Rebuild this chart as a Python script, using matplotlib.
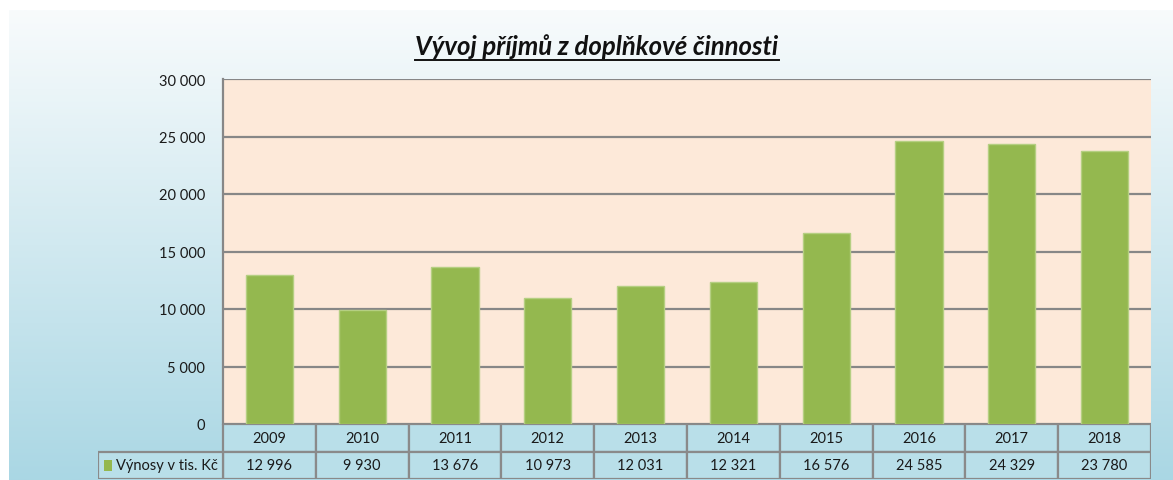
import numpy as np
import matplotlib
matplotlib.use("Agg")
import matplotlib.pyplot as plt
from matplotlib.patches import Rectangle

years = ["2009", "2010", "2011", "2012", "2013", "2014", "2015", "2016", "2017", "2018"]
values = [12996, 9930, 13676, 10973, 12031, 12321, 16576, 24585, 24329, 23780]
value_labels = ["12 996", "9 930", "13 676", "10 973", "12 031", "12 321", "16 576", "24 585", "24 329", "23 780"]
series_name = "Výnosy v tis. Kč"
title = "Vývoj příjmů z doplňkové činnosti"
yticks = [0, 5000, 10000, 15000, 20000, 25000, 30000]
ytick_labels = ["0", "5 000", "10 000", "15 000", "20 000", "25 000", "30 000"]

W, H = 1173, 481
plt.rcParams['font.family'] = ['Lato', 'DejaVu Sans']
fig = plt.figure(figsize=(W / 100, H / 100), dpi=100)
fig.patch.set_facecolor("white")

def px(l, t, r, b):
    return [l / W, 1 - b / H, (r - l) / W, (b - t) / H]

# background gradient
bg = fig.add_axes(px(9, 11, W, H))
bg.set_axis_off()
top = np.array([0xf8, 0xfb, 0xfc]) / 255
bot = np.array([0xaa, 0xd7, 0xe4]) / 255
t = np.linspace(0, 1, 256)[:, None]
grad = top[None, :] * (1 - t) + bot[None, :] * t
grad = np.repeat(grad[:, None, :], 2, axis=1)
bg.imshow(grad, aspect="auto", extent=[0, 1, 0, 1], origin="upper")
bg.set_xlim(0, 1); bg.set_ylim(0, 1)

# main plot
L, R, T, B = 223, 1151, 80, 425
ax = fig.add_axes(px(L, T, R, B))
ax.set_facecolor("#fde9d9")
x = np.arange(len(years))
ax.bar(x, values, width=0.51, color="#94b84f", edgecolor="#b5cf82", linewidth=1.0, zorder=3)
ax.set_xlim(-0.5, len(years) - 0.5)
ax.set_ylim(0, 30000)
ax.set_yticks(yticks)
ax.set_yticklabels(ytick_labels, fontsize=10.5, color="#1a1a1a")
ax.tick_params(axis="y", length=0, pad=13)
ax.set_xticks([])
ax.grid(axis="y", color="#878787", linewidth=1.6, zorder=1)
for s in ["top", "right", "bottom"]:
    ax.spines[s].set_visible(False)
ax.spines["left"].set_color("#878787")
ax.spines["left"].set_linewidth(1.6)

# title with underline matched to text extent
ttl = fig.text(597 / W, 1 - 47 / H, title, ha="center", va="center", fontsize=18.5,
               fontweight="bold", fontstyle="italic", color="#111111")
fig.canvas.draw()
bb = ttl.get_window_extent(renderer=fig.canvas.get_renderer())
fig.add_artist(plt.Line2D([bb.x0 / W, bb.x1 / W], [1 - 61 / H, 1 - 61 / H],
                          color="#111111", linewidth=1.4))

# data table
cw = (R - L) / len(years)
legw = (L - 98) / cw
tab = fig.add_axes(px(98, 425, R, 480))
tab.set_xlim(-0.5 - legw, len(years) - 0.5)
tab.set_ylim(0, 2)
tab.set_axis_off()
cell = "#b9dfe9"
edge = "#8a8a8a"
for i in range(len(years)):
    tab.add_patch(Rectangle((i - 0.5, 1), 1, 1, facecolor=cell, edgecolor=edge, linewidth=1.6))
    tab.add_patch(Rectangle((i - 0.5, 0), 1, 1, facecolor=cell, edgecolor=edge, linewidth=1.6))
    tab.text(i, 1.5, years[i], ha="center", va="center", fontsize=10.5, color="#1a1a1a")
    tab.text(i, 0.5, value_labels[i], ha="center", va="center", fontsize=10.5, color="#1a1a1a")
tab.add_patch(Rectangle((-0.5 - legw, 0), legw, 1, facecolor=cell, edgecolor=edge, linewidth=1.6))
tab.add_patch(Rectangle((-0.5 - legw + 0.06, 0.3), 0.09, 0.4, facecolor="#94b84f", edgecolor="none"))
tab.text(-0.5 - legw + 0.19, 0.5, series_name, ha="left", va="center", fontsize=10.5, color="#1a1a1a")

fig.savefig("out.png", dpi=100)
